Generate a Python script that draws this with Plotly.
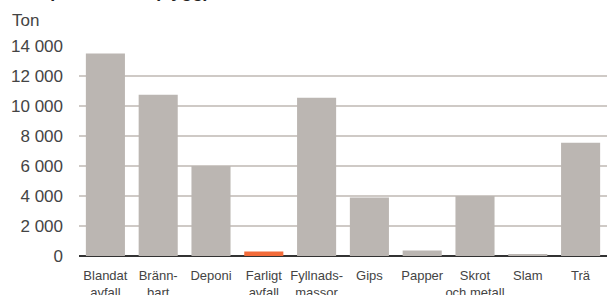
import plotly.graph_objects as go

categories = ["Blandat<br>avfall", "Bränn-<br>bart", "Deponi", "Farligt<br>avfall",
              "Fyllnads-<br>massor", "Gips", "Papper", "Skrot<br>och metall", "Slam", "Trä"]
values = [13500, 10750, 6000, 300, 10550, 3900, 370, 4000, 100, 7550]
highlight = "Farligt<br>avfall"
tick_vals = [0, 2000, 4000, 6000, 8000, 10000, 12000, 14000]
tick_text = ["0", "2 000", "4 000", "6 000", "8 000", "10 000", "12 000", "14 000"]

GREY = "#bbb6b2"
ORANGE = "#f26b3a"
colors = [ORANGE if c == highlight else GREY for c in categories]

fig = go.Figure(go.Bar(x=categories, y=values, marker=dict(color=colors, line=dict(width=0)),
                       hoverinfo="x+y"))

W, H = 607, 295
ml, mr, mt, mb = 79, 0, 46, 38.5
PW, PH = W - ml - mr, H - mt - mb
fig.update_layout(
    width=W, height=H,
    margin=dict(l=ml, r=mr, t=mt, b=mb, pad=0),
    paper_bgcolor="white", plot_bgcolor="white",
    bargap=0.26,
    showlegend=False,
    font=dict(family="Liberation Sans, Arial, sans-serif", color="#444444"),
    xaxis=dict(
        showgrid=False, showline=False, zeroline=False,
        tickfont=dict(family="Liberation Sans, Arial", size=13, color="#444444"),
        ticks="", tickangle=0, automargin=False, fixedrange=True,
        ticklabelstandoff=10,
    ),
    yaxis=dict(
        range=[0, 14000], tickvals=tick_vals, ticktext=tick_text,
        showgrid=True, gridcolor="#cfcac6", gridwidth=2,
        zeroline=True, zerolinecolor="#333333", zerolinewidth=2,
        showline=False, ticks="", automargin=False,
        tickfont=dict(family="Liberation Sans, Arial", size=17, color="#444444"),
        ticklabelstandoff=15, fixedrange=True,
    ),
    annotations=[
        dict(text="Ton", xref="paper", yref="paper", x=(10 - ml) / PW,
             y=(H - mb - 20) / PH, xanchor="left", yanchor="middle", showarrow=False,
             font=dict(family="Liberation Sans, Arial", size=17, color="#444444")),
        dict(text="<b>Avfall per fraktion (bygg)</b>", xref="paper", yref="paper",
             x=(211 - ml) / PW, y=(H - mb - 2.5) / PH,
             xanchor="right", yanchor="bottom", showarrow=False,
             font=dict(family="Liberation Sans, Arial", size=18, color="#222222")),
    ],
)

fig.write_html(
    "out.html",
    config={"displayModeBar": False},
    post_script="document.body.style.margin='0';document.body.style.overflow='hidden';",
)
